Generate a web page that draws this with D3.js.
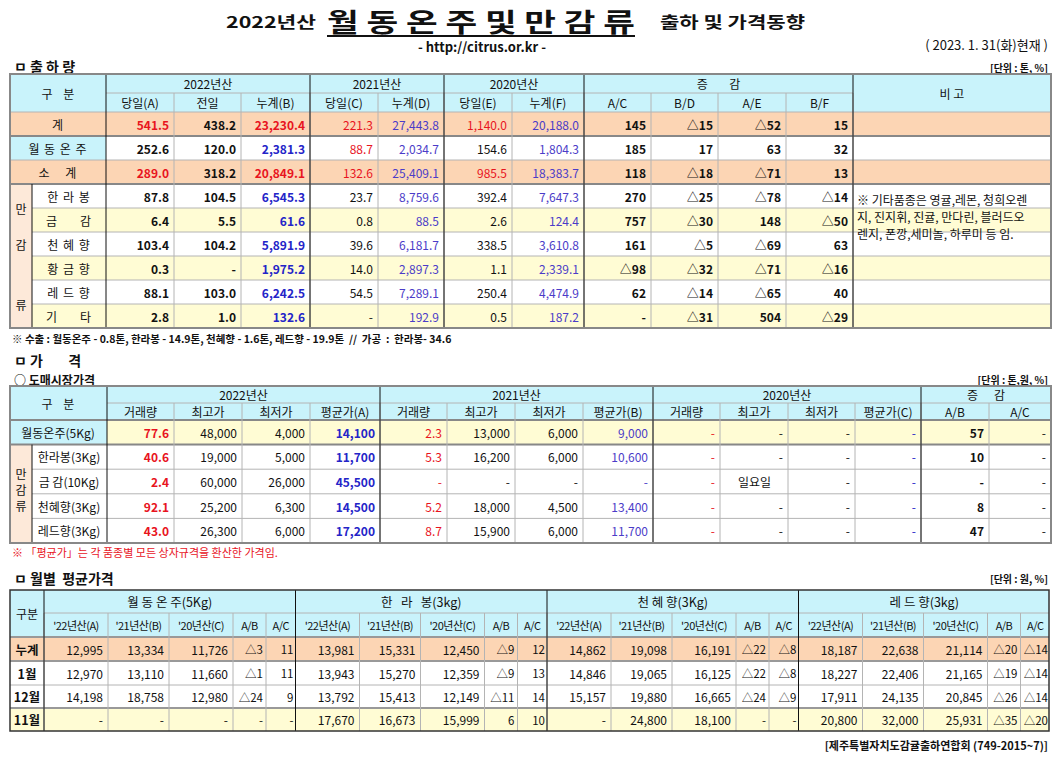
<!DOCTYPE html>
<html><head><meta charset="utf-8">
<script src="https://cdn.jsdelivr.net/npm/d3@7"></script>
<style>body{margin:0;background:#fff}svg{font-family:"Noto Sans CJK KR","Noto Sans",sans-serif}text{white-space:pre}</style>
</head><body><svg id="c" width="1062" height="757"></svg>
<script>
// ---------- data ----------
const t1Labels = ["계","월동온주","소계","한라봉","금감","천혜향","황금향","레드향","기타"];
const t1Disp = ["계","월 동 온 주","소    계","한 라 봉","금      감","천 혜 향","황 금 향","레 드 향","기      타"];
const t1A = [541.5,252.6,289.0,87.8,6.4,103.4,0.3,88.1,2.8];
const t1Prev = [438.2,120.0,318.2,104.5,5.5,104.2,null,103.0,1.0];
const t1B = [23230.4,2381.3,20849.1,6545.3,61.6,5891.9,1975.2,6242.5,132.6];
const t1C = [221.3,88.7,132.6,23.7,0.8,39.6,14.0,54.5,null];
const t1D = [27443.8,2034.7,25409.1,8759.6,88.5,6181.7,2897.3,7289.1,192.9];
const t1E = [1140.0,154.6,985.5,392.4,2.6,338.5,1.1,250.4,0.5];
const t1F = [20188.0,1804.3,18383.7,7647.3,124.4,3610.8,2339.1,4474.9,187.2];
const t1AC = ["145","185","118","270","757","161","△98","62","-"];
const t1BD = ["△15","17","△18","△25","△30","△5","△32","△14","△31"];
const t1AE = ["△52","63","△71","△78","148","△69","△71","△65","504"];
const t1BF = ["15","32","13","△14","△50","63","△16","40","△29"];

const t2Labels = ["월동온주(5Kg)","한라봉(3Kg)","금 감(10Kg)","천혜향(3Kg)","레드향(3Kg)"];
const t2Vol22 = [77.6,40.6,2.4,92.1,43.0];
const t2Hi22 = [48000,19000,60000,25200,26300];
const t2Lo22 = [4000,5000,26000,6300,6000];
const t2Avg22 = [14100,11700,45500,14500,17200];
const t2Vol21 = [2.3,5.3,null,5.2,8.7];
const t2Hi21 = [13000,16200,null,18000,15900];
const t2Lo21 = [6000,6000,null,4500,6000];
const t2Avg21 = [9000,10600,null,13400,11700];
const t2Hi20 = ["-","-","일요일","-","-"];
const t2AB = ["57","10","-","8","47"];
const t2AC = ["-","-","-","-","-"];

const t3Rows = ["누계","1월","12월","11월"];
const t3Groups = ["월 동 온 주(5Kg)","한   라   봉(3kg)","천 혜 향(3Kg)","레 드 향(3kg)"];
const t3A = [[12995,12970,14198,null],[13981,13943,13792,17670],[14862,14846,15157,null],[18187,18227,17911,20800]];
const t3B = [[13334,13110,18758,null],[15331,15270,15413,16673],[19098,19065,19880,24800],[22638,22406,24135,32000]];
const t3C = [[11726,11660,12980,null],[12450,12359,12149,15999],[16191,16125,16665,18100],[21114,21165,20845,25931]];
const t3AB = [["△3","△1","△24","-"],["△9","△9","△11","6"],["△22","△22","△24","-"],["△20","△19","△26","△35"]];
const t3AC = [["11","11","9","-"],["12","13","14","10"],["△8","△8","△9","-"],["△14","△14","△14","△20"]];

// ---------- helpers ----------
const svg = d3.select("#c");
const C = {hdr:"#c9f3fb", peach:"#fcd5b4", yel:"#fffcd4", red:"#e8141e", blue:"#2424c8", dblue:"#4b3cc8", grid:"#b4b4b4"};
const f1 = d3.format(",.1f"), f0 = d3.format(",");
const fm = (f,v)=> v==null ? "-" : f(v);
function edges(x0, widths){ const e=[x0]; widths.forEach(w=>e.push(e[e.length-1]+w)); return e; }
function rect(x0,y0,x1,y1,fill){ svg.append("rect").attr("x",x0).attr("y",y0).attr("width",x1-x0).attr("height",y1-y0).attr("fill",fill); }
function line(x0,y0,x1,y1,col,w){ svg.append("line").attr("x1",x0).attr("y1",y0).attr("x2",x1).attr("y2",y1).attr("stroke",col).attr("stroke-width",w||1); }
function txt(x,y,s,o){ o=o||{}; const t=svg.append("text").attr("x",x).attr("y",y).text(s)
  .attr("font-size",o.size||12).attr("fill",o.color||"#111").attr("text-anchor",o.anchor||"middle")
  .attr("font-weight",o.bold?"bold":"normal").attr("dominant-baseline","central").attr("xml:space","preserve");
  if(o.ls) t.attr("letter-spacing",o.ls); if(o.tl) t.attr("textLength",o.tl).attr("lengthAdjust","spacingAndGlyphs");
  if(o.deco) t.attr("text-decoration",o.deco); return t; }
function num(x1,y0,y1,s,o){ return txt(x1-5,(y0+y1)/2,s,Object.assign({anchor:"end"},o)); }

// ---------- title ----------
txt(226,21,"2022년산",{size:16,bold:true,anchor:"start",tl:90});
txt(327,20,"월 동 온 주 및 만 감 류",{size:26,bold:true,anchor:"start",tl:308});
line(327,36,635,36,"#111",2);
txt(660,21,"출하 및 가격동향",{size:16,bold:true,anchor:"start",tl:145});
txt(482,46,"- http://citrus.or.kr -",{size:13,bold:true});
txt(1048,44,"( 2023. 1. 31(화)현재 )",{size:13,anchor:"end"});

// ---------- table 1 ----------
txt(14,66,"ㅁ 출 하 량",{size:14,bold:true,anchor:"start"});
txt(1048,67,"[단위 : 톤, %]",{size:10,bold:true,anchor:"end"});
const x1 = edges(10,[22,74,68,67,69,68,66,68,72,67,67,68,67,198]);
const y1 = d3.range(10).map(i=>112+i*24);
rect(10,74,1051,112,C.hdr);
t1Labels.forEach((l,i)=>{
  const peach = (i===0||i===2), yel=[4,6,8].includes(i);
  rect(i<3?10:32,y1[i],x1[14],y1[i+1],peach?C.peach:(yel?C.yel:"#fff"));
  if(i===1) rect(10,y1[i],x1[2],y1[i+1],C.hdr);
});
rect(10,y1[3],32,y1[9],"#fde9d9");
rect(x1[14],112,1051,y1[9],"#fff");
for(let i=0;i<=9;i++) line(i<=3?10:32,y1[i],x1[14],y1[i],(i===1||i===3)?"#888":C.grid,(i===1||i===3)?2:1);
line(10,y1[3],x1[14],y1[3],"#888",2);
line(x1[2],93,x1[13],93,C.grid);
for(let k=3;k<14;k++) line(x1[k],93,x1[k],y1[9],C.grid);
[2,5,7,9,13,14].forEach(k=>line(x1[k],74,x1[k],y1[9],"#111"));
line(32,y1[3],32,y1[9],"#111");
svg.append("rect").attr("x",10).attr("y",74).attr("width",1041).attr("height",y1[9]-74).attr("fill","none").attr("stroke","#888").attr("stroke-width",2);
txt(58,93,"구    분",{size:12});
[["2022년산",2,5],["2021년산",5,7],["2020년산",7,9],["증        감",9,13]].forEach(h=>txt((x1[h[1]]+x1[h[2]])/2,83.5,h[0],{size:12}));
txt((x1[13]+x1[14])/2,93,"비 고",{size:12});
["당일(A)","전일","누계(B)","당일(C)","누계(D)","당일(E)","누계(F)","A/C","B/D","A/E","B/F"].forEach((h,k)=>txt((x1[k+2]+x1[k+3])/2,102.5,h,{size:12}));
t1Labels.forEach((l,i)=>{
  const a=y1[i], b=y1[i+1], tot=(i===0||i===2);
  txt(i<3?58:69,(a+b)/2,t1Disp[i],{size:12,ls:"1px"});
  num(x1[3],a,b,fm(f1,t1A[i]),{bold:true,color:tot?C.red:"#111"});
  num(x1[4],a,b,fm(f1,t1Prev[i]),{bold:true});
  num(x1[5],a,b,fm(f1,t1B[i]),{bold:true,color:tot?C.red:C.blue});
  num(x1[6],a,b,fm(f1,t1C[i]),{color:i<3?C.red:"#111"});
  num(x1[7],a,b,fm(f1,t1D[i]),{color:C.dblue});
  num(x1[8],a,b,fm(f1,t1E[i]),{color:tot?C.red:"#111"});
  num(x1[9],a,b,fm(f1,t1F[i]),{color:C.dblue});
  [t1AC,t1BD,t1AE,t1BF].forEach((arr,k)=>num(x1[10+k],a,b,arr[i],{bold:true}));
});
txt(21,y1[4],"만",{size:12}); txt(21,(y1[5]+y1[6])/2,"감",{size:12}); txt(21,y1[8],"류",{size:12});
["※ 기타품종은 영귤,레몬, 청희오렌","지, 진지휘, 진귤, 만다린, 블러드오","렌지, 폰깡,세미놀, 하루미 등 임."].forEach((s,i)=>txt(857,199+i*17,s,{size:12,anchor:"start"}));
txt(12,338,"※ 수출 : 월동온주 - 0.8톤, 한라봉 - 14.9톤, 천혜향 - 1.6톤, 레드향 - 19.9톤  //  가공  :  한라봉- 34.6",{size:10.5,bold:true,anchor:"start"});

// ---------- table 2 ----------
txt(14,360,"ㅁ 가        격",{size:14,bold:true,anchor:"start"});
txt(14,379,"○ 도매시장가격",{size:12,bold:true,anchor:"start"});
txt(1048,379,"[단위 : 톤,원, %]",{size:10,bold:true,anchor:"end"});
const x2 = edges(10,[22,75,67,68,68,70,67,68,68,70,67,68,67,66,68,62]);
const y2 = [386,403,420].concat(d3.range(1,6).map(i=>420+i*24.6));
rect(10,386,1051,420,C.hdr);
rect(10,y2[2],1051,y2[3],C.yel);
rect(10,y2[2],x2[2],y2[3],C.hdr);
rect(10,y2[3],x2[2],y2[7],"#fde9d9");
rect(32,y2[3],x2[2],y2[7],"#fff");
for(let i=3;i<7;i++) line(32,y2[i],1051,y2[i],C.grid);
line(10,y2[3],1051,y2[3],"#888",2);
line(10,y2[2],1051,y2[2],"#888",2);
line(x2[2],403,1051,403,C.grid);
for(let k=3;k<16;k++) line(x2[k],403,x2[k],y2[7],C.grid);
[2,6,10,14].forEach(k=>line(x2[k],386,x2[k],y2[7],"#111"));
line(32,y2[3],32,y2[7],"#111");
svg.append("rect").attr("x",10).attr("y",386).attr("width",1041).attr("height",y2[7]-386).attr("fill","none").attr("stroke","#888").attr("stroke-width",2);
txt(58,403,"구    분",{size:12});
[["2022년산",2,6],["2021년산",6,10],["2020년산",10,14],["증      감",14,16]].forEach(h=>txt((x2[h[1]]+x2[h[2]])/2,394.5,h[0],{size:12}));
["거래량","최고가","최저가","평균가(A)","거래량","최고가","최저가","평균가(B)","거래량","최고가","최저가","평균가(C)","A/B","A/C"].forEach((h,k)=>txt((x2[k+2]+x2[k+3])/2,411.5,h,{size:12}));
t2Labels.forEach((l,i)=>{
  const a=y2[i+2], b=y2[i+3];
  txt(i===0?58:69,(a+b)/2,l,{size:12});
  num(x2[3],a,b,fm(f1,t2Vol22[i]),{bold:true,color:C.red});
  num(x2[4],a,b,fm(f0,t2Hi22[i]));
  num(x2[5],a,b,fm(f0,t2Lo22[i]));
  num(x2[6],a,b,fm(f0,t2Avg22[i]),{bold:true,color:C.blue});
  num(x2[7],a,b,fm(f1,t2Vol21[i]),{color:C.red});
  num(x2[8],a,b,fm(f0,t2Hi21[i]));
  num(x2[9],a,b,fm(f0,t2Lo21[i]));
  num(x2[10],a,b,fm(f0,t2Avg21[i]),{color:C.dblue});
  num(x2[11],a,b,"-",{color:C.red});
  if(t2Hi20[i]==="-") num(x2[12],a,b,"-"); else txt(x2[11]+18,(a+b)/2,t2Hi20[i],{size:12,anchor:"start"});
  num(x2[13],a,b,"-");
  num(x2[14],a,b,"-",{color:C.blue});
  num(x2[15],a,b,t2AB[i],{bold:true});
  num(x2[16],a,b,t2AC[i]);
});
txt(21,y2[4]+4,"만",{size:12}); txt(21,(y2[4]+y2[5])/2+8,"감",{size:12}); txt(21,y2[5]+12,"류",{size:12});
txt(12,552,"※ 「평균가」는 각 품종별 모든 상자규격을 환산한 가격임.",{size:11,color:C.red,anchor:"start"});

// ---------- table 3 ----------
txt(14,578,"ㅁ 월별  평균가격",{size:14,bold:true,anchor:"start"});
txt(1048,578,"[단위 : 원, %]",{size:10,bold:true,anchor:"end"});
const gw=[64,61,64,33,29.5];
const x3 = edges(10,[34].concat(d3.range(4).flatMap(()=>gw)));
const y3 = [590,613,637,661,685,708,731];
rect(10,590,1049,637,C.hdr);
rect(10,y3[2],1049,y3[3],C.peach);
rect(10,y3[5],1049,y3[6],C.yel);
for(let i=3;i<6;i++) line(10,y3[i],1049,y3[i],(i===3||i===5)?"#999":C.grid,(i===3||i===5)?2:1);
line(10,y3[2],1049,y3[2],"#999",2);
line(x3[1],613,1049,613,C.grid);
for(let k=1;k<21;k++) line(x3[k],613,x3[k],731,C.grid);
[1,6,11,16].forEach(k=>line(x3[k],590,x3[k],731,"#111"));
svg.append("rect").attr("x",10).attr("y",590).attr("width",1039).attr("height",141).attr("fill","none").attr("stroke","#333").attr("stroke-width",1.5);
txt(27,613,"구분",{size:12});
t3Groups.forEach((g,gi)=>{
  const b=1+gi*5;
  txt((x3[b]+x3[b+5])/2,601.5,g,{size:12.5});
  ["'22년산(A)","'21년산(B)","'20년산(C)","A/B","A/C"].forEach((h,k)=>txt((x3[b+k]+x3[b+k+1])/2,625,h,{size:11,ls:"-0.5px"}));
  t3Rows.forEach((r,i)=>{
    const a=y3[i+2], bb=y3[i+3];
    num(x3[b+1],a,bb,fm(f0,t3A[gi][i]));
    num(x3[b+2],a,bb,fm(f0,t3B[gi][i]));
    num(x3[b+3],a,bb,fm(f0,t3C[gi][i]));
    num(x3[b+4]+2,a,bb,t3AB[gi][i],{size:11.5});
    num(x3[b+5]+3,a,bb,t3AC[gi][i],{size:11.5});
  });
});
t3Rows.forEach((r,i)=>txt(27,(y3[i+2]+y3[i+3])/2,r,{size:12.5,bold:true}));
txt(1048,745,"[제주특별자치도감귤출하연합회 (749-2015~7)]",{size:11,bold:true,anchor:"end"});
</script></body></html>
